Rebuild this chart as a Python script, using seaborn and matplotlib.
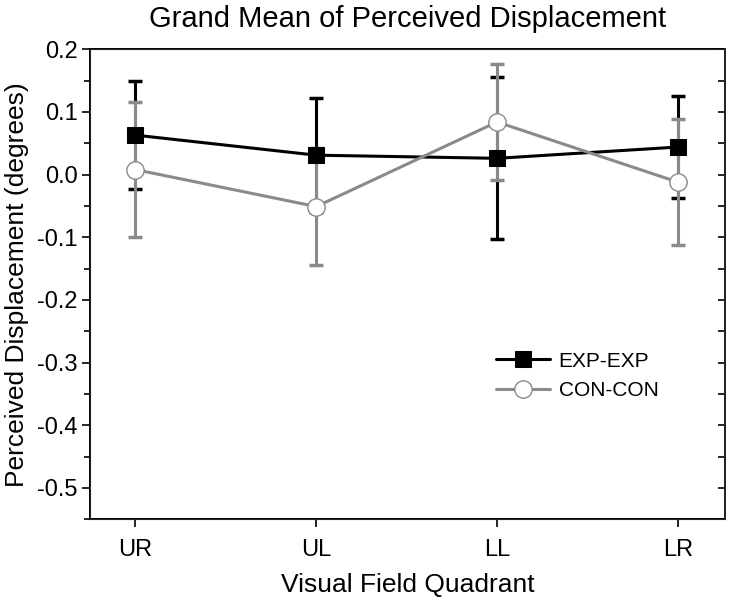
import numpy as np
import pandas as pd
import seaborn as sns
import matplotlib.pyplot as plt
from matplotlib.ticker import MultipleLocator

quadrants = ['UR', 'UL', 'LL', 'LR']
exp_mean = [0.063, 0.031, 0.026, 0.044]
exp_err = [0.086, 0.091, 0.129, 0.081]
con_mean = [0.008, -0.051, 0.084, -0.012]
con_err = [0.108, 0.094, 0.093, 0.101]
y_ticks = [-0.5, -0.4, -0.3, -0.2, -0.1, 0.0, 0.1, 0.2]

sns.set_style('ticks')
plt.rcParams['font.family'] = ['Liberation Sans', 'DejaVu Sans']
plt.rcParams['text.color'] = 'black'
plt.rcParams['axes.labelcolor'] = 'black'
plt.rcParams['xtick.color'] = 'black'
plt.rcParams['ytick.color'] = 'black'

x = np.arange(len(quadrants))
df = pd.DataFrame({
    'pos': np.concatenate([x, x]),
    'value': exp_mean + con_mean,
    'group': ['EXP-EXP'] * 4 + ['CON-CON'] * 4,
})

fig = plt.figure(figsize=(7.33, 6.01), dpi=100)
ax = fig.add_axes([0.123, 0.136, 0.866, 0.782])

gray = '#8a8a8a'

# error bars first, gray on top of black
ax.errorbar(x, exp_mean, yerr=exp_err, fmt='none', ecolor='black',
            elinewidth=2.2, capsize=5, capthick=2.5, zorder=1)
ax.errorbar(x, con_mean, yerr=con_err, fmt='none', ecolor=gray,
            elinewidth=2.2, capsize=5, capthick=2.5, zorder=2)

sns.lineplot(data=df[df.group == 'EXP-EXP'], x='pos', y='value', ax=ax,
             color='black', marker='s', markersize=11, linewidth=2.2,
             markeredgecolor='black', label='EXP-EXP', zorder=3)
sns.lineplot(data=df[df.group == 'CON-CON'], x='pos', y='value', ax=ax,
             color=gray, marker='o', markersize=12.5, linewidth=2.2,
             markerfacecolor='white', markeredgecolor=gray, markeredgewidth=1,
             label='CON-CON', zorder=4)

ax.set_xlim(-0.25, 3.26)
ax.set_ylim(-0.55, 0.2)
ax.set_xticks(x)
ax.set_xticklabels(quadrants)
ax.set_yticks(y_ticks)
ax.set_yticklabels([f'{v:.1f}' for v in y_ticks])
ax.yaxis.set_minor_locator(MultipleLocator(0.05))

for s in ax.spines.values():
    s.set_linewidth(1.4)
    s.set_color('black')

ax.tick_params(axis='y', which='major', direction='out', length=6, width=1.2,
               labelsize=17, left=True, right=False, pad=3)
ax.tick_params(axis='y', which='minor', direction='out', length=4, width=1.2,
               left=True, right=False)
ax.tick_params(axis='x', direction='out', length=6, width=1.2, labelsize=17,
               top=False, pad=8)

# inward ticks on right spine
ax2 = ax.twinx()
ax2.set_ylim(ax.get_ylim())
ax2.yaxis.set_major_locator(MultipleLocator(0.05))
ax2.tick_params(axis='y', direction='in', length=5, width=1.2,
                labelright=False)
ax2.spines['right'].set_linewidth(1.4)

ax.set_title('Grand Mean of Perceived Displacement', fontsize=21, pad=16)
ax.set_xlabel('Visual Field Quadrant', fontsize=19, labelpad=9)
ax.set_ylabel('Perceived Displacement (degrees)', fontsize=19, labelpad=6)

ax.legend(loc='center left', bbox_to_anchor=(0.61, 0.305), frameon=False,
          fontsize=15, handlelength=2.6, handletextpad=0.4, labelspacing=0.5)

fig.savefig('out.png', dpi=100)
